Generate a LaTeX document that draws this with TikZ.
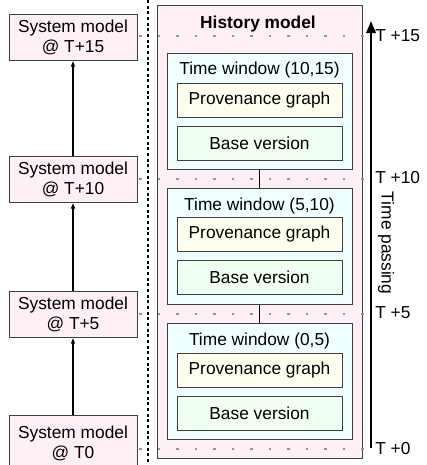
\documentclass[tikz,border=0pt]{standalone}
\usepackage{fontspec}
\setmainfont{Liberation Sans}
\usetikzlibrary{arrows.meta}
\definecolor{pinkfill}{RGB}{255,240,245}
\definecolor{cyanfill}{RGB}{240,255,255}
\definecolor{yellowfill}{RGB}{255,255,240}
\definecolor{greenfill}{RGB}{240,255,240}
\definecolor{edgegray}{RGB}{64,64,64}
\definecolor{dotgray}{RGB}{150,150,150}
\begin{document}
\begin{tikzpicture}[x=0.75pt,y=-0.75pt,
  every node/.style={font=\fontsize{13}{15}\selectfont, inner sep=0pt},
  sysbox/.style={draw=edgegray, line width=0.75pt, fill=pinkfill, minimum width=96pt, minimum height=34.5pt, align=center},
  histbox/.style={draw=edgegray, line width=0.75pt, fill=pinkfill, minimum width=153.4pt, minimum height=339.4pt},
  winbox/.style={draw=edgegray, line width=0.75pt, fill=cyanfill, minimum width=138.75pt, minimum height=87pt},
  provbox/.style={draw=edgegray, line width=0.75pt, fill=yellowfill, minimum width=123.75pt, minimum height=25.5pt},
  basebox/.style={draw=edgegray, line width=0.75pt, fill=greenfill, minimum width=123.75pt, minimum height=25.5pt},
  tickline/.style={dotgray, line width=1.9pt, dash pattern=on 1.9pt off 12pt},
  evolve/.style={line width=1.1pt, -{Latex[length=4.5pt,width=3.5pt]}},
  winlink/.style={line width=0.9pt},
  timelabel/.style={anchor=west}
]
\useasboundingbox (0,0) rectangle (426,465);
\fill[white] (0,0) rectangle (426,465);

% history container
\node[histbox] (hist) at (259.75,231.75) {};
\node[font=\fontsize{13}{15}\selectfont\bfseries] (histlabel) at (258,24) {History model};

% dotted time ticks
\coordinate (t15a) at (139,36);  \coordinate (t15b) at (369,36);
\coordinate (t10a) at (139,179); \coordinate (t10b) at (369,179);
\coordinate (t5a)  at (139,314); \coordinate (t5b)  at (369,314);
\coordinate (t0a)  at (139,449); \coordinate (t0b)  at (369,449);
\draw[tickline] (t15a) -- (t15b);
\draw[tickline] (t10a) -- (t10b);
\draw[tickline] (t5a) -- (t5b);
\draw[tickline] (t0a) -- (t0b);

% time windows
\node[winbox] (w1) at (259.5,111.5) {};
\node[winbox] (w2) at (259.5,246.5) {};
\node[winbox] (w3) at (259.5,381.5) {};
\node (w1l) at (259.5,70) {Time window (10,15)};
\node (w2l) at (259.5,206) {Time window (5,10)};
\node (w3l) at (259.5,341) {Time window (0,5)};
\node[provbox] (p1) at (259.5,100) {Provenance graph};
\node[basebox] (b1) at (259.5,143) {Base version};
\node[provbox] (p2) at (259.5,234.5) {Provenance graph};
\node[basebox] (b2) at (259.5,277.5) {Base version};
\node[provbox] (p3) at (259.5,370) {Provenance graph};
\node[basebox] (b3) at (259.5,413) {Base version};
\draw[winlink] (w1.south) -- (w2.north);
\draw[winlink] (w2.south) -- (w3.north);

% separator
\coordinate (sepTop) at (147.5,0);
\coordinate (sepBot) at (147.5,465);
\draw[line width=1.5pt, dash pattern=on 2.25pt off 2pt] (sepTop) -- (sepBot);

% system models
\node[sysbox] (s15) at (73,37) {System model\\@ T+15};
\node[sysbox] (s10) at (73,179) {System model\\@ T+10};
\node[sysbox] (s5) at (73,314) {System model\\@ T+5};
\node[sysbox, minimum height=42pt] (s0) at (73,443) {System model\\@ T0};
\draw[evolve] (s0.north) -- (s5.south);
\draw[evolve] (s5.north) -- (s10.south);
\draw[evolve] (s10.north) -- (s15.south);

% time axis
\coordinate (tBot) at (371,448);
\coordinate (tTop) at (371,21);
\draw[line width=1.8pt, -{Triangle[length=9pt,width=7pt]}] (tBot) -- (tTop);
\node[timelabel] (l15) at (375,36) {T +15};
\node[timelabel] (l10) at (375,178) {T +10};
\node[timelabel] (l5) at (375,313) {T +5};
\node[timelabel] (l0) at (375,449) {T +0};
\node[rotate=-90] (tp) at (386,243) {Time passing};
\end{tikzpicture}
\end{document}
